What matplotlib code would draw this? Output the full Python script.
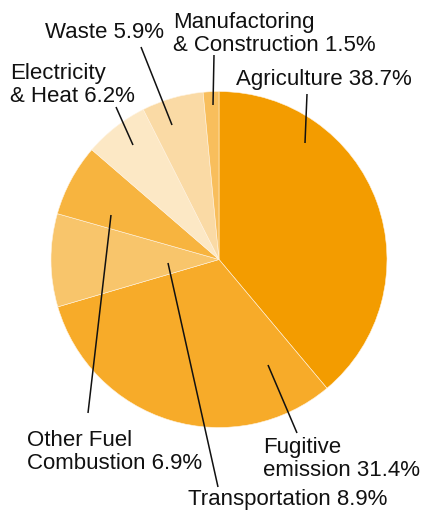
import matplotlib
matplotlib.use("Agg")
import matplotlib.pyplot as plt

categories = ["Agriculture", "Fugitive emission", "Transportation", "Other Fuel Combustion",
              "Electricity & Heat", "Waste", "Manufactoring & Construction"]
values = [38.7, 31.4, 8.9, 6.9, 6.2, 5.9, 1.5]
colors = ["#F39C00", "#F7AB29", "#F8C56B", "#F7B43F", "#FCE8C5", "#FADAA5", "#F8BE5C"]
labels = ["Agriculture 38.7%", "Fugitive\nemission 31.4%", "Transportation 8.9%",
          "Other Fuel\nCombustion 6.9%", "Electricity\n& Heat 6.2%", "Waste 5.9%",
          "Manufactoring\n& Construction 1.5%"]

plt.rcParams['font.family'] = ['Liberation Sans', 'DejaVu Sans']

fig = plt.figure(figsize=(4.22, 5.16), dpi=100)
ax = fig.add_axes([0, 0, 1, 1])
# y axis is inverted below, so startangle=-90 points up and counterclock=True runs clockwise
ax.pie(values, colors=colors, startangle=-90, counterclock=True,
       center=(219, 259.5), radius=168,
       wedgeprops=dict(linewidth=0.4, edgecolor="#FFF3E0"))
ax.set_xlim(0, 422)
ax.set_ylim(516, 0)
ax.set_aspect("equal")
ax.axis("off")

label_pos = [
    (236, 79, "left", [(307, 94), (305, 143)]),
    (263, 459, "left", [(297, 433), (268, 365)]),
    (188, 500, "left", [(218, 487), (168, 263)]),
    (27, 452, "left", [(88, 413), (111, 215)]),
    (10, 85, "left", [(116, 107), (133, 145)]),
    (45, 32, "left", [(141, 47), (172, 125)]),
    (173, 34, "left", [(214, 55), (213, 105)]),
]
for lab, (x, y, ha, line) in zip(labels, label_pos):
    ax.text(x, y, lab, ha=ha, va="center", fontsize=16, color="#111111", linespacing=1.08)
    (x0, y0), (x1, y1) = line
    ax.plot([x0, x1], [y0, y1], color="#111111", lw=1.1, solid_capstyle="butt")

fig.savefig("out.png", dpi=100)
